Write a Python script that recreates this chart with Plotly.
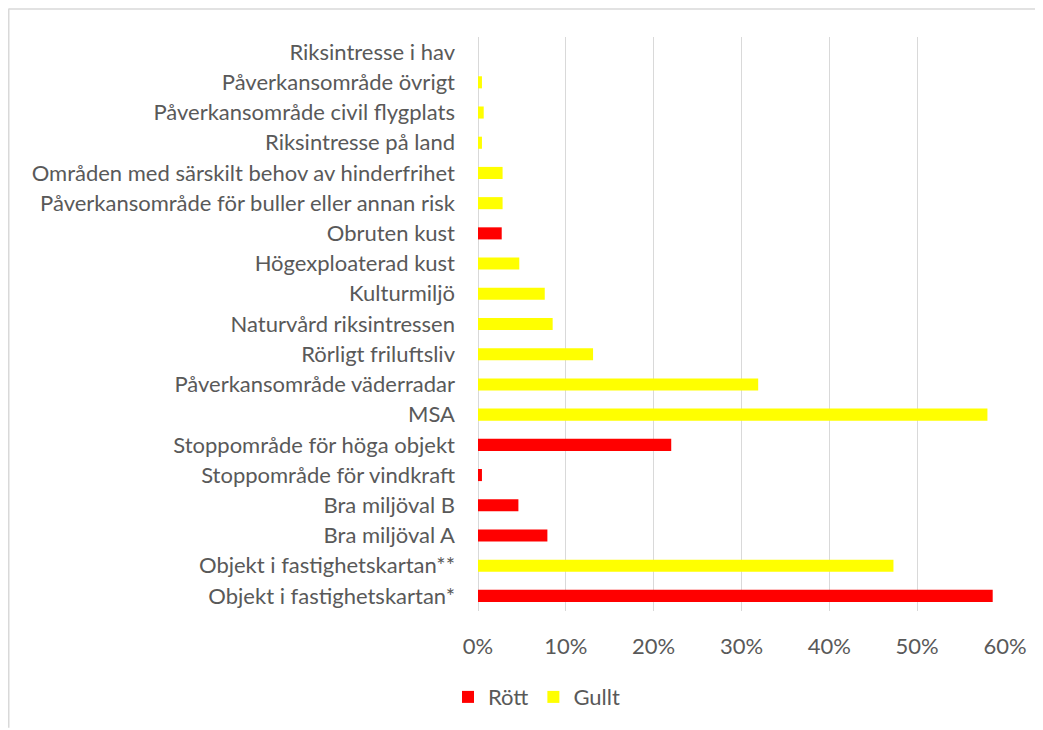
import plotly.graph_objects as go

categories = [
    "Objekt i fastighetskartan*",
    "Objekt i fastighetskartan**",
    "Bra miljöval A",
    "Bra miljöval B",
    "Stoppområde för vindkraft",
    "Stoppområde för höga objekt",
    "MSA",
    "Påverkansområde väderradar",
    "Rörligt friluftsliv",
    "Naturvård riksintressen",
    "Kulturmiljö",
    "Högexploaterad kust",
    "Obruten kust",
    "Påverkansområde för buller eller annan risk",
    "Områden med särskilt behov av hinderfrihet",
    "Riksintresse på land",
    "Påverkansområde civil flygplats",
    "Påverkansområde övrigt",
    "Riksintresse i hav",
]

# values as fractions (None = not in this series)
rott = [0.586, None, 0.079, 0.046, 0.0045, 0.220, None, None, None, None,
        None, None, 0.027, None, None, None, None, None, None]
gullt = [None, 0.473, None, None, None, None, 0.580, 0.319, 0.131, 0.085,
         0.076, 0.047, None, 0.028, 0.028, 0.0045, 0.0065, 0.0045, 0.0]

x_ticks = [0, 0.1, 0.2, 0.3, 0.4, 0.5, 0.6]

# the page body adds an 8px margin, so the figure is 8px smaller than the window
W, H = 1035, 722
ML, MR, MT, MB = 470, 38, 29, 113
PW = W - ML - MR
PH = H - MT - MB

def px(x):
    return (x - ML) / PW

def py(y):
    return (H - MB - y) / PH

text_color = "#595959"
grid_color = "#d9d9d9"
font_family = "Lato, 'Open Sans', sans-serif"
FS = 22

fig = go.Figure()
fig.add_trace(go.Bar(y=categories, x=rott, orientation="h", name="Rött",
                     marker=dict(color="#ff0000", line=dict(width=0))))
fig.add_trace(go.Bar(y=categories, x=gullt, orientation="h", name="Gullt",
                     marker=dict(color="#ffff00", line=dict(width=0))))

fig.update_layout(
    width=W, height=H,
    margin=dict(l=ML, r=MR, t=MT, b=MB, pad=0),
    paper_bgcolor="white", plot_bgcolor="white",
    barmode="overlay", bargap=0.6,
    font=dict(family=font_family, size=FS, color=text_color),
    showlegend=True,
    legend=dict(orientation="h", x=px(440), xanchor="left", y=py(696), yanchor="middle",
                font=dict(size=FS, color=text_color), traceorder="normal",
                itemwidth=30, bgcolor="rgba(0,0,0,0)"),
    xaxis=dict(range=[0, 0.6], tickvals=x_ticks, tickformat=".0%",
               showgrid=True, gridcolor=grid_color, gridwidth=1,
               zeroline=True, zerolinecolor=grid_color, zerolinewidth=1,
               showline=False, ticks="", ticklabelstandoff=20, fixedrange=True),
    yaxis=dict(categoryorder="array", categoryarray=categories,
               showgrid=False, showline=False, ticks="", ticklabelstandoff=22,
               fixedrange=True),
    shapes=[
        dict(type="line", xref="paper", yref="paper", x0=px(0.5), x1=px(W + 5),
             y0=py(0.75), y1=py(0.75), line=dict(color=grid_color, width=1.5)),
        dict(type="line", xref="paper", yref="paper", x0=px(0.75), x1=px(0.75),
             y0=py(0.5), y1=py(H + 5), line=dict(color=grid_color, width=1.5)),
    ],
)

fig.write_html("out.html")
